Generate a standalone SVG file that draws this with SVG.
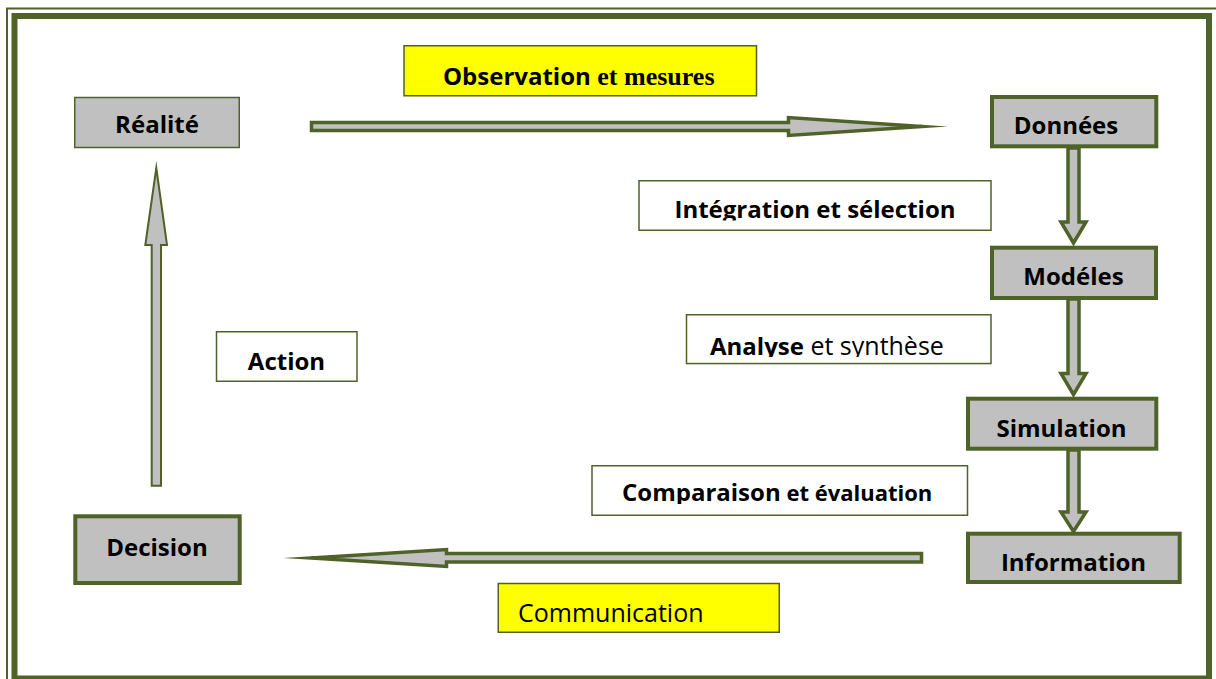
<svg xmlns="http://www.w3.org/2000/svg" width="1216" height="679" viewBox="0 0 1216 679">
<style>
.thin{fill:#c0c0c0;stroke:#4f6228;stroke-width:1.5}
.thick{fill:#c0c0c0;stroke:#4f6228;stroke-width:4}
.lbl{fill:#ffffff;stroke:#4f6228;stroke-width:1.5}
.yel{fill:#ffff00;stroke:#4f6228;stroke-width:1.5}
.arr{fill:#c0c0c0;stroke:#4f6228;stroke-width:3.5;stroke-linejoin:miter;stroke-miterlimit:40}
.arr2{fill:#c0c0c0;stroke:#4f6228;stroke-width:2;stroke-linejoin:miter;stroke-miterlimit:20}
text{font-family:"Open Sans","Noto Sans","Liberation Sans",sans-serif;fill:#000}
.b{font-weight:bold;font-size:24px}
.r{font-weight:normal;font-size:25px}
.serif{font-family:"Liberation Serif","DejaVu Serif",serif;font-weight:bold;font-size:26px}
</style>
<defs>
<clipPath id="c1"><rect x="640" y="182" width="350" height="38.5"/></clipPath>
<clipPath id="c2"><rect x="687" y="316" width="303" height="41"/></clipPath>
<clipPath id="c3"><rect x="593" y="467" width="374" height="37"/></clipPath>
</defs>
<rect width="1216" height="679" fill="#ffffff"/>
<g id="border" fill="none" stroke="#4f6228">
<path d="M7,679 V8.5 H1216" stroke-width="2"/>
<rect x="14.5" y="16" width="1194.5" height="662.5" stroke-width="6"/>
</g>
<g id="connectors">
<polygon class="arr" points="311.5,122.5 788.5,122.5 788.5,117.5 922,126.5 788.5,135.5 788.5,130.5 311.5,130.5"/>
<polygon class="arr" points="1068,148 1079,148 1079,222 1086,222 1073.5,243 1061,222 1068,222"/>
<polygon class="arr" points="1068,299 1079,299 1079,373.5 1086,373.5 1073.5,394.5 1061,373.5 1068,373.5"/>
<polygon class="arr" points="1068,450 1079,450 1079,512 1086,512 1073.5,531.5 1061,512 1068,512"/>
<polygon class="arr" points="921.5,553.5 446.5,553.5 446.5,549.5 311,558 446.5,566.5 446.5,562 921.5,562"/>
<polygon class="arr2" points="151.7,485.7 151.7,245 145.3,245 156.3,168 167,245 161,245 161,485.7"/>
</g>
<g id="realite">
<rect class="thin" x="74.75" y="97.5" width="164.5" height="50"/>
<text class="b" x="157" y="133" text-anchor="middle">Réalité</text>
</g>
<g id="observation">
<rect class="yel" x="404" y="45.75" width="352.5" height="50"/>
<text x="443" y="85"><tspan class="b">Observation</tspan><tspan class="serif"> et mesures</tspan></text>
</g>
<g id="donnees">
<rect class="thick" x="992" y="97" width="164.3" height="49.3"/>
<text class="b" x="1066" y="134" text-anchor="middle">Données</text>
</g>
<g id="integration">
<rect class="lbl" x="639" y="180.75" width="352" height="49.5"/>
<text class="b" x="815" y="218.3" text-anchor="middle" clip-path="url(#c1)">Intégration et sélection</text>
</g>
<g id="modeles">
<rect class="thick" x="992" y="247.7" width="164" height="50.3"/>
<text class="b" x="1073.5" y="285" text-anchor="middle">Modéles</text>
</g>
<g id="analyse">
<rect class="lbl" x="686.5" y="314.75" width="304.5" height="48.8"/>
<text x="710" y="355" clip-path="url(#c2)"><tspan class="b">Analyse</tspan><tspan class="r"> et synthèse</tspan></text>
</g>
<g id="action">
<rect class="lbl" x="216.5" y="331.75" width="140.5" height="49.5"/>
<text class="b" x="286.5" y="370" text-anchor="middle">Action</text>
</g>
<g id="simulation">
<rect class="thick" x="968" y="398.7" width="188.3" height="50"/>
<text class="b" x="1061.5" y="436.7" text-anchor="middle">Simulation</text>
</g>
<g id="comparaison">
<rect class="lbl" x="592" y="465.75" width="375.5" height="49.5"/>
<text x="622" y="501" clip-path="url(#c3)"><tspan class="b">Comparaison</tspan><tspan class="b" style="font-size:22px"> et évaluation</tspan></text>
</g>
<g id="information">
<rect class="thick" x="968" y="533.7" width="211.7" height="48.3"/>
<text class="b" x="1073.5" y="571" text-anchor="middle">Information</text>
</g>
<g id="decision">
<rect class="thick" x="75.3" y="516.3" width="164.4" height="66.7"/>
<text class="b" x="157" y="556" text-anchor="middle">Decision</text>
</g>
<g id="communication">
<rect class="yel" x="498.25" y="583.5" width="281" height="48.75"/>
<text class="r" x="518" y="621.7">Communication</text>
</g>
</svg>
